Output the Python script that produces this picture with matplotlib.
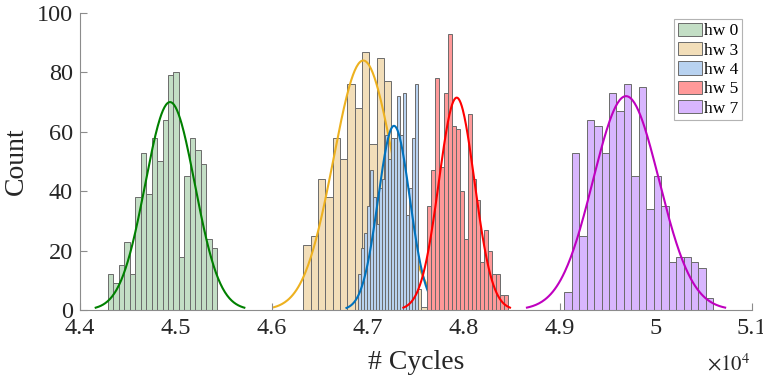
import numpy as np
import matplotlib
matplotlib.use("Agg")
import matplotlib.pyplot as plt

plt.rcParams["font.family"] = ["Liberation Serif", "DejaVu Serif"]
plt.rcParams["mathtext.fontset"] = "stix"

## DATA ##
labels = ["hw 0", "hw 3", "hw 4", "hw 5", "hw 7"]

# left edge of the first bin and bin width, in cycles
bin_start = [44289, 46326, 46899, 47618, 49045]
bin_width = [57.1, 76.4, 31.25, 42.2, 77.6]

counts_hw0 = [12, 9, 15, 23, 12, 38, 53, 39, 58, 50,
              64, 79, 80, 18, 45, 58, 54, 49, 24, 21]
counts_hw3 = [22, 25, 44, 38, 58, 51, 76, 68, 87, 56,
              85, 77, 44, 33, 22, 7, 1, 2, 0, 1]
counts_hw4 = [12, 21, 26, 35, 47, 38, 29, 41, 44, 59,
              51, 58, 58, 72, 59, 73, 32, 41, 58, 76]
counts_hw5 = [35, 47, 78, 48, 73, 93, 62, 61, 40, 24,
              66, 44, 37, 16, 27, 20, 12, 12, 5, 5]
counts_hw7 = [6, 53, 25, 64, 62, 53, 73, 67, 76, 45,
              75, 34, 45, 35, 16, 18, 18, 16, 14, 4]
all_counts = [counts_hw0, counts_hw3, counts_hw4, counts_hw5, counts_hw7]

# normal fit drawn over each histogram
fit_mu = [44938, 46951, 47271, 47924, 49688]
fit_sigma = [258, 310, 165, 185, 344]
fit_peak = [70, 84, 62, 71.5, 72]

## STYLE ##
face_colors = ["#C3DEC5", "#F2DEB9", "#B8D2F0", "#FF9999", "#D8B6FE"]
line_colors = ["#008000", "#EDB120", "#0072BD", "#FF0000", "#BF00BF"]
edge_color = "#6B6B6B"
axis_color = "#8C8C8C"

fig = plt.figure(figsize=(7.63, 3.81), dpi=100)
ax = fig.add_axes([0.1048, 0.1864, 0.8808, 0.7795])

for i in range(len(labels)):
    counts = np.array(all_counts[i])
    edges = bin_start[i] + bin_width[i] * np.arange(len(counts))
    ax.bar(edges, counts, width=bin_width[i], align="edge",
           color=face_colors[i], edgecolor=edge_color, linewidth=0.7,
           label=labels[i], zorder=2)
    x = np.linspace(fit_mu[i] - 3 * fit_sigma[i], fit_mu[i] + 3 * fit_sigma[i], 200)
    y = fit_peak[i] * np.exp(-0.5 * ((x - fit_mu[i]) / fit_sigma[i]) ** 2)
    ax.plot(x, y, color=line_colors[i], linewidth=1.5, zorder=2)

ax.set_xlim(44000, 51000)
ax.set_ylim(0, 100)
ax.set_xticks(np.arange(44000, 51001, 1000))
ax.set_xticklabels(["4.4", "4.5", "4.6", "4.7", "4.8", "4.9", "5", "5.1"])
ax.set_yticks(np.arange(0, 101, 20))

for side in ["top", "right"]:
    ax.spines[side].set_visible(False)
for side in ["left", "bottom"]:
    ax.spines[side].set_color(axis_color)
    ax.spines[side].set_linewidth(0.8)
ax.tick_params(direction="in", length=5, width=0.8, color=axis_color,
               labelsize=17.5, labelcolor="#262626")
ax.tick_params(axis="x", pad=6)
ax.tick_params(axis="y", pad=5)

ax.set_xlabel("# Cycles", fontsize=20, color="#262626", labelpad=8)
ax.set_ylabel("Count", fontsize=20, color="#262626", labelpad=6)
fig.text(0.984, 0.015, r"$\times10^4$", fontsize=15, ha="right", va="bottom",
         color="#262626")

leg = ax.legend(loc="upper right", bbox_to_anchor=(0.9856, 0.9788),
                borderaxespad=0, fontsize=12.5, frameon=True, fancybox=False,
                handlelength=1.4, handleheight=0.8, handletextpad=0.15,
                labelspacing=0.15, borderpad=0.2)
leg.get_frame().set_edgecolor("#A0A0A0")
leg.get_frame().set_linewidth(0.8)

fig.savefig("out.png", dpi=100)
